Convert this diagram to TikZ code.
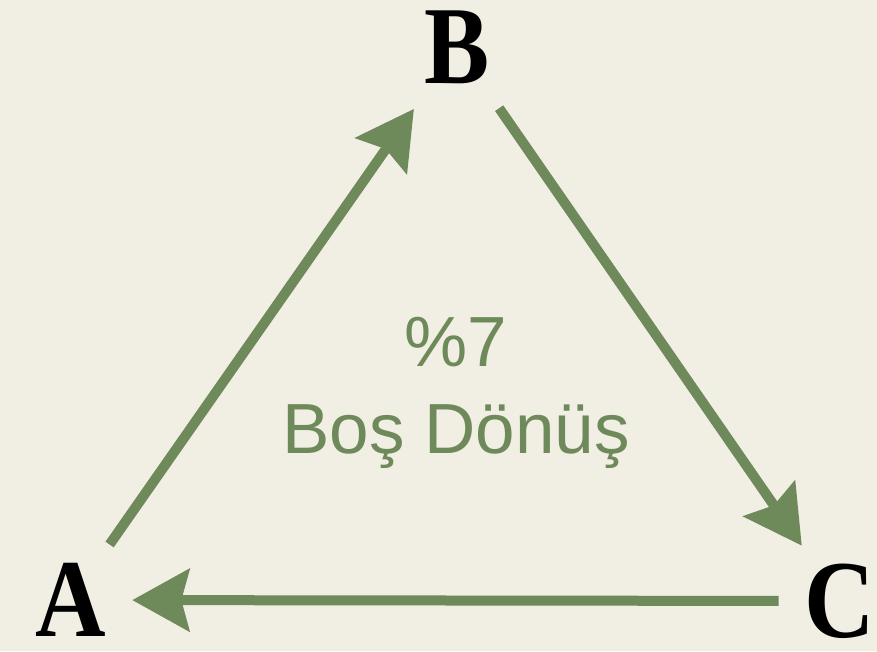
\documentclass[tikz,border=0pt]{standalone}
\usepackage{fontspec}
\newfontfamily\statefont[FakeStretch=0.88]{Liberation Serif}
\newfontfamily\labelfont{Liberation Sans}
\usetikzlibrary{arrows.meta}
\definecolor{paper}{HTML}{F1EEE4}
\definecolor{leaf}{HTML}{6E895A}
\tikzset{state/.style={inner sep=0pt,outer sep=0pt,font=\statefont\bfseries\fontsize{111}{111}\selectfont}}
\tikzset{flow/.style={-{Stealth[length=57pt,width=62pt,inset=8pt]},color=leaf,line width=10pt}}

\begin{document}
\begin{tikzpicture}[x=1pt,y=-1pt]
\fill[paper] (0,0) rectangle (877,651);
\useasboundingbox (0,0) rectangle (877,651);
%
\node (a) [state] at (71,600) {A};
\node (b) [state] at (457,47) {B};
\node (c) [state] at (840,601) {C};
\node (gain) [text=leaf,align=center,font=\labelfont\fontsize{71}{87}\selectfont] at (456,393) {\%7\\Boş Dönüş};
%
\path[flow,shorten <=23pt,shorten >=31pt] (a) edge (b);
\path[flow,shorten <=30pt,shorten >=22pt] (b) edge (c);
\path[flow,shorten <=26pt,shorten >=26pt] (c) edge (a);
\end{tikzpicture}
\end{document}
